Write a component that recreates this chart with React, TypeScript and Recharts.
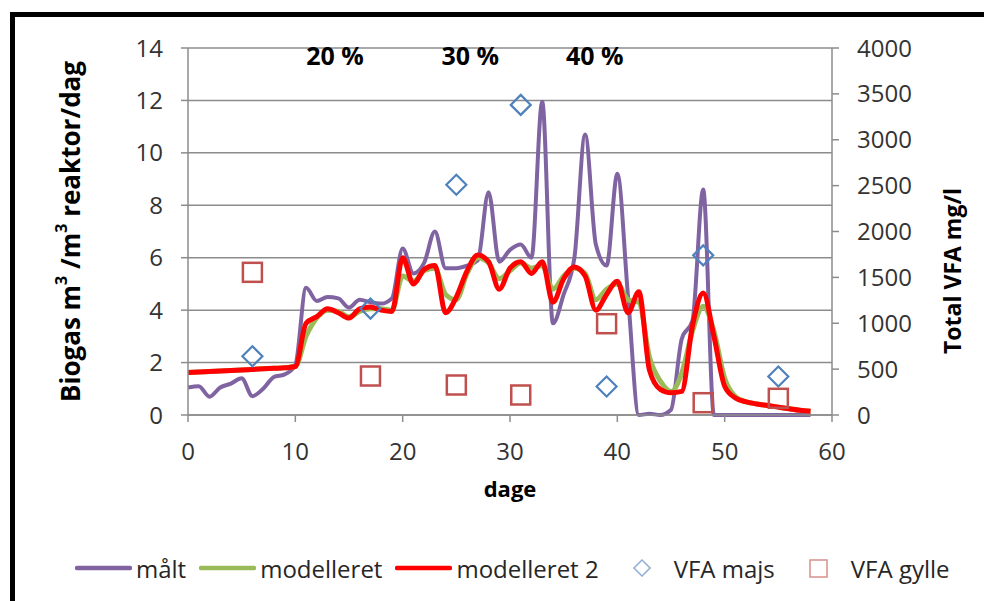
import React from 'react';
import {
  ComposedChart,
  Line,
  Scatter,
  XAxis,
  YAxis,
  CartesianGrid,
  Legend,
  ReferenceDot,
} from 'recharts';

const days = [
  0, 1, 2, 3, 4, 5, 6, 7, 8, 9, 10, 11, 12, 13, 14, 15, 16, 17, 18, 19, 20, 21, 22, 23, 24, 25, 26, 27, 28, 29,
  30, 31, 32, 33, 34, 35, 36, 37, 38, 39, 40, 41, 42, 43, 44, 45, 46, 47, 48, 49, 50, 51, 52, 53, 54, 55, 56, 57, 58,
];

const maalt = [
  1.05, 1.1, 0.7, 1.05, 1.2, 1.4, 0.72, 1.0, 1.45, 1.55, 1.9, 4.85, 4.35, 4.5, 4.45, 4.1, 4.4, 4.3, 4.25, 4.45,
  6.35, 5.4, 5.8, 7.0, 5.6, 5.6, 5.7, 5.9, 8.5, 5.85, 6.3, 6.5, 6.0, 11.95, 3.5, 4.6, 6.0, 10.7, 6.5, 5.7,
  9.2, 4.5, 0, 0.05, 0, 0.2, 2.9, 3.6, 8.6, 0, 0, 0, 0, 0, 0, 0, 0, 0, 0,
];

const modelleret = [
  1.62, 1.64, 1.66, 1.68, 1.7, 1.72, 1.74, 1.76, 1.78, 1.8, 1.85, 3.0, 3.7, 4.0, 3.95, 3.75, 3.95, 4.05, 4.05, 4.0,
  5.3, 5.1, 5.5, 5.6, 4.6, 4.4, 5.4, 6.0, 5.8, 5.2, 5.5, 5.8, 5.6, 5.7, 4.8, 5.3, 5.6, 5.4, 4.4, 4.8,
  5.0, 4.4, 4.3, 2.2, 1.3, 0.9, 1.6, 3.2, 4.15, 3.2, 1.4, 0.7, 0.5, 0.42, 0.36, 0.3, 0.24, 0.18, 0.14,
];

const modelleret2 = [
  1.62, 1.64, 1.66, 1.68, 1.7, 1.72, 1.74, 1.76, 1.78, 1.8, 1.85, 3.5, 3.75, 4.05, 3.9, 3.7, 4.05, 4.12, 4.0, 3.95,
  6.0, 5.0, 5.55, 5.7, 3.9, 4.5, 5.5, 6.1, 5.85, 4.8, 5.6, 5.85, 5.4, 5.85, 4.3, 5.2, 5.65, 5.3, 4.0, 4.6,
  5.1, 3.9, 4.7, 1.7, 0.98, 0.85, 0.9, 3.4, 4.65, 3.0, 1.1, 0.65, 0.5, 0.42, 0.36, 0.3, 0.24, 0.18, 0.14,
];

const vfaDays = [6, 17, 25, 31, 39, 48, 55];
const vfaMajs = [640, 1160, 2510, 3380, 310, 1740, 420];
const vfaGylle = [1555, 425, 327, 218, 995, 134, 182];

const xTicks = [0, 10, 20, 30, 40, 50, 60];
const leftTicks = [0, 2, 4, 6, 8, 10, 12, 14];
const rightTicks = [0, 500, 1000, 1500, 2000, 2500, 3000, 3500, 4000];

const annotations = [
  { text: '20 %', day: 13.7, value: 13.7 },
  { text: '30 %', day: 26.3, value: 13.7 },
  { text: '40 %', day: 37.9, value: 13.7 },
];

const lineData = days.map((d, i) => ({
  day: d,
  maalt: maalt[i],
  modelleret: modelleret[i],
  modelleret2: modelleret2[i],
}));
const majsData = vfaDays.map((d, i) => ({ day: d, vfa: vfaMajs[i] }));
const gylleData = vfaDays.map((d, i) => ({ day: d, vfa: vfaGylle[i] }));

const FONT = "'Open Sans', 'Liberation Sans', sans-serif";
const PURPLE = '#8064A2';
const GREEN = '#9BBB59';
const RED = '#FF0000';
const BLUE = '#4F81BD';
const BROWN = '#C0504D';
const GRID = '#8C8C8C';
const TEXT = '#333333';

const Diamond = (props: any) => {
  const { cx, cy } = props;
  if (cx == null || cy == null) return null;
  const r = 10;
  return (
    <path
      d={`M${cx},${cy - r}L${cx + r},${cy}L${cx},${cy + r}L${cx - r},${cy}Z`}
      fill="none"
      stroke={BLUE}
      strokeWidth={2.2}
    />
  );
};

const Square = (props: any) => {
  const { cx, cy } = props;
  if (cx == null || cy == null) return null;
  const h = 9.5;
  return <rect x={cx - h} y={cy - h} width={2 * h} height={2 * h} fill="none" stroke={BROWN} strokeWidth={2.5} />;
};

const LeftTitle = (props: any) => {
  const vb = props.viewBox || {};
  const x = vb.x + 70;
  const y = vb.y + vb.height / 2;
  return (
    <text
      x={x}
      y={y}
      transform={`rotate(-90 ${x} ${y})`}
      textAnchor="middle"
      dominantBaseline="central"
      fontFamily={FONT}
      fontWeight="bold"
      fontSize={26}
      fill="#000"
    >
      Biogas m
      <tspan dy={-9} fontSize={16}>
        3
      </tspan>
      <tspan dy={9}> /m</tspan>
      <tspan dy={-9} fontSize={16}>
        3
      </tspan>
      <tspan dy={9}> reaktor/dag</tspan>
    </text>
  );
};

const RightTitle = (props: any) => {
  const vb = props.viewBox || {};
  const x = vb.x + 120;
  const y = vb.y + 223;
  return (
    <text
      x={x}
      y={y}
      transform={`rotate(-90 ${x} ${y})`}
      textAnchor="middle"
      dominantBaseline="central"
      fontFamily={FONT}
      fontWeight="bold"
      fontSize={23}
      fill="#000"
    >
      Total VFA mg/l
    </text>
  );
};

const legendItems = [
  { label: 'målt', kind: 'line', color: PURPLE },
  { label: 'modelleret', kind: 'line', color: GREEN },
  { label: 'modelleret 2', kind: 'line', color: RED },
  { label: 'VFA majs', kind: 'diamond', color: '#95B3D7' },
  { label: 'VFA gylle', kind: 'square', color: '#D99694' },
];

const LegendContent = () => (
  <div
    style={{
      display: 'flex',
      alignItems: 'center',
      paddingLeft: 75,
      fontFamily: FONT,
      fontSize: 24,
      color: '#262626',
      height: 30,
      whiteSpace: 'nowrap',
    }}
  >
    {legendItems.map((it, i) => (
      <div
        key={it.label}
        style={{
          display: 'flex',
          alignItems: 'center',
          marginLeft: i === 0 ? 0 : it.kind === 'line' ? 13 : 34,
        }}
      >
        {it.kind === 'line' && (
          <svg width={57} height={8} style={{ marginRight: 4 }}>
            <line x1={2} y1={4} x2={55} y2={4} stroke={it.color} strokeWidth={4.5} strokeLinecap="round" />
          </svg>
        )}
        {it.kind === 'diamond' && (
          <svg width={18} height={18} style={{ marginRight: 23 }}>
            <path d="M9,1L17,9L9,17L1,9Z" fill="none" stroke={it.color} strokeWidth={1.6} />
          </svg>
        )}
        {it.kind === 'square' && (
          <svg width={19} height={19} style={{ marginRight: 23 }}>
            <rect x={1} y={1} width={17} height={17} fill="none" stroke={it.color} strokeWidth={1.6} />
          </svg>
        )}
        <span>{it.label}</span>
      </div>
    ))}
  </div>
);

export default function App() {
  return (
    <div style={{ position: 'absolute', left: 0, top: 0, width: 984, height: 601, background: '#fff', overflow: 'hidden' }}>
      <div
        style={{
          position: 'absolute',
          left: 10,
          top: 12,
          width: 984,
          height: 601,
          borderLeft: '5px solid #000',
          borderTop: '5px solid #000',
        }}
      />
      <ComposedChart
        width={984}
        height={601}
        data={lineData}
        margin={{ top: 48, right: 0, left: 0, bottom: 56 }}
        style={{ position: 'absolute', left: 0, top: 0 }}
      >
        <CartesianGrid yAxisId="left" vertical={false} stroke={GRID} strokeWidth={1.5} />
        <XAxis
          dataKey="day"
          type="number"
          domain={[0, 60]}
          ticks={xTicks}
          interval={0}
          height={100}
          tickSize={7}
          tickMargin={21}
          axisLine={{ stroke: GRID, strokeWidth: 1.5 }}
          tickLine={{ stroke: GRID, strokeWidth: 1.5 }}
          tick={{ fill: TEXT, fontSize: 24, fontFamily: FONT }}
          label={{
            value: 'dage',
            position: 'insideTop',
            offset: 66,
            fill: '#000',
            fontSize: 22,
            fontWeight: 'bold',
            fontFamily: FONT,
          }}
        />
        <YAxis
          yAxisId="left"
          orientation="left"
          width={188}
          domain={[0, 14]}
          ticks={leftTicks}
          interval={0}
          tickSize={7}
          tickMargin={18}
          axisLine={{ stroke: GRID, strokeWidth: 1.5 }}
          tickLine={{ stroke: GRID, strokeWidth: 1.5 }}
          tick={{ fill: TEXT, fontSize: 24, fontFamily: FONT }}
          label={(p: any) => <LeftTitle {...p} />}
        />
        <YAxis
          yAxisId="right"
          orientation="right"
          width={152}
          domain={[0, 4000]}
          ticks={rightTicks}
          interval={0}
          tickSize={7}
          tickMargin={18}
          axisLine={{ stroke: GRID, strokeWidth: 1.5 }}
          tickLine={{ stroke: GRID, strokeWidth: 1.5 }}
          tick={{ fill: TEXT, fontSize: 24, fontFamily: FONT }}
          label={(p: any) => <RightTitle {...p} />}
        />
        <Line
          yAxisId="left"
          type="monotone"
          dataKey="maalt"
          stroke={PURPLE}
          strokeWidth={4}
          dot={false}
          activeDot={false}
          isAnimationActive={false}
        />
        <Line
          yAxisId="left"
          type="monotone"
          dataKey="modelleret"
          stroke={GREEN}
          strokeWidth={5}
          dot={false}
          activeDot={false}
          isAnimationActive={false}
        />
        <Line
          yAxisId="left"
          type="monotone"
          dataKey="modelleret2"
          stroke={RED}
          strokeWidth={5}
          dot={false}
          activeDot={false}
          isAnimationActive={false}
        />
        <Scatter yAxisId="right" data={majsData} dataKey="vfa" shape={Diamond} isAnimationActive={false} />
        <Scatter yAxisId="right" data={gylleData} dataKey="vfa" shape={Square} isAnimationActive={false} />
        {annotations.map((a) => (
          <ReferenceDot
            key={a.text}
            yAxisId="left"
            x={a.day}
            y={a.value}
            r={0}
            fill="none"
            stroke="none"
            label={{
              value: a.text,
              position: 'center',
              fill: '#000',
              fontSize: 25,
              fontWeight: 'bold',
              fontFamily: FONT,
            }}
          />
        ))}
        <Legend
          verticalAlign="bottom"
          content={<LegendContent />}
          wrapperStyle={{ left: 0, top: 553, bottom: 'auto', width: 984 }}
        />
      </ComposedChart>
    </div>
  );
}
